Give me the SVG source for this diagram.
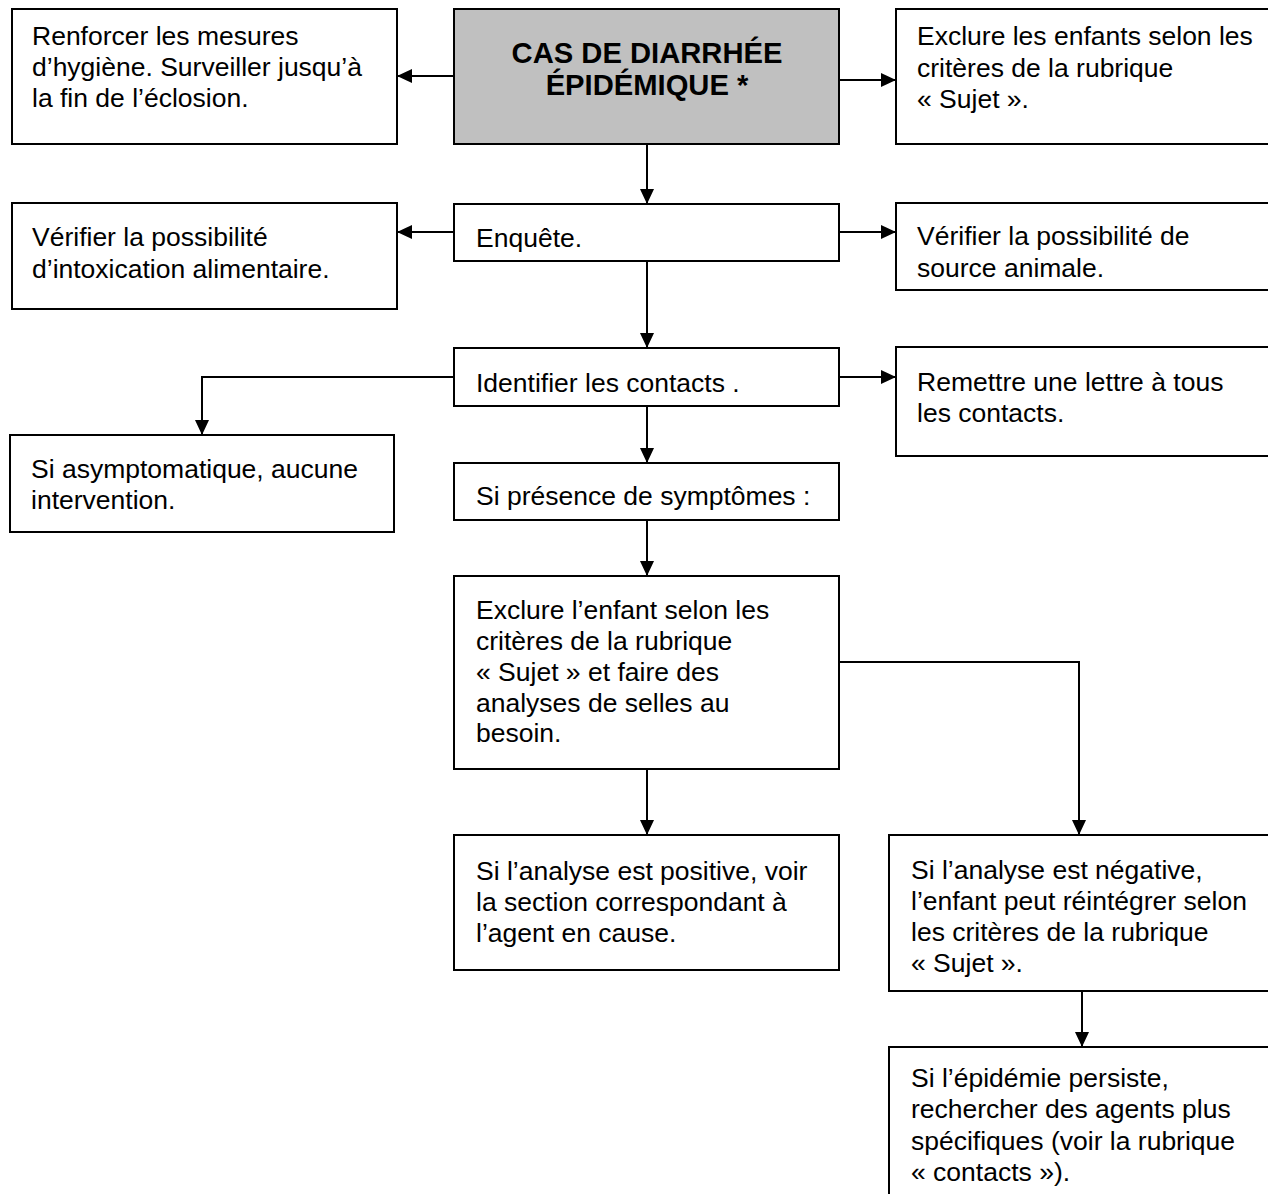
<svg xmlns="http://www.w3.org/2000/svg" width="1268" height="1194" viewBox="0 0 1268 1194">
  <defs>
    <marker id="ah" viewBox="0 0 15 14" refX="15" refY="7" markerWidth="15" markerHeight="14" markerUnits="userSpaceOnUse" orient="auto">
      <path d="M0,0 L15,7 L0,14 Z" fill="#000"/>
    </marker>
    <style>
      .box { fill: #ffffff; stroke: #000; stroke-width: 2; }
      .main { fill: #c0c0c0; stroke: #000; stroke-width: 2; }
      .t { font-family: "Liberation Sans", Arial, sans-serif; font-size: 26.5px; fill: #000; }
      .tb { font-family: "Liberation Sans", Arial, sans-serif; font-size: 29.2px; font-weight: bold; fill: #000; text-anchor: middle; }
      .c { fill: none; stroke: #000; stroke-width: 2; }
      .ca { fill: none; stroke: #000; stroke-width: 2; marker-end: url(#ah); }
    </style>
  </defs>
  <rect x="0" y="0" width="1268" height="1194" fill="#ffffff"/>

  <g id="connectors">
    <line class="ca" x1="454" y1="76" x2="397" y2="76"/>
    <line class="ca" x1="839" y1="80" x2="896" y2="80"/>
    <line class="ca" x1="647" y1="144" x2="647" y2="204"/>
    <line class="ca" x1="454" y1="232" x2="397" y2="232"/>
    <line class="ca" x1="839" y1="232" x2="896" y2="232"/>
    <line class="ca" x1="647" y1="261" x2="647" y2="348"/>
    <polyline class="ca" points="454,377 202,377 202,435"/>
    <line class="ca" x1="839" y1="377" x2="896" y2="377"/>
    <line class="ca" x1="647" y1="406" x2="647" y2="463"/>
    <line class="ca" x1="647" y1="520" x2="647" y2="576"/>
    <line class="ca" x1="647" y1="769" x2="647" y2="835"/>
    <polyline class="ca" points="839,662 1079,662 1079,835"/>
    <line class="ca" x1="1082" y1="991" x2="1082" y2="1047"/>
  </g>

  <g id="n-renforcer">
    <rect class="box" x="12" y="9" width="385" height="135"/>
    <text class="t" x="32" y="45">Renforcer les mesures</text>
    <text class="t" x="32" y="76">d’hygiène. Surveiller jusqu’à</text>
    <text class="t" x="32" y="107">la fin de l’éclosion.</text>
  </g>

  <g id="n-main">
    <rect class="main" x="454" y="9" width="385" height="135"/>
    <text class="tb" x="647" y="63">CAS DE DIARRHÉE</text>
    <text class="tb" x="647" y="95">ÉPIDÉMIQUE *</text>
  </g>

  <g id="n-exclure-enfants">
    <rect class="box" x="896" y="9" width="390" height="135"/>
    <text class="t" x="917" y="45">Exclure les enfants selon les</text>
    <text class="t" x="917" y="77">critères de la rubrique</text>
    <text class="t" x="917" y="108">« Sujet ».</text>
  </g>

  <g id="n-intox">
    <rect class="box" x="12" y="203" width="385" height="106"/>
    <text class="t" x="32" y="246">Vérifier la possibilité</text>
    <text class="t" x="32" y="278">d’intoxication alimentaire.</text>
  </g>

  <g id="n-enquete">
    <rect class="box" x="454" y="204" width="385" height="57"/>
    <text class="t" x="476" y="247">Enquête.</text>
  </g>

  <g id="n-animale">
    <rect class="box" x="896" y="203" width="390" height="87"/>
    <text class="t" x="917" y="245">Vérifier la possibilité de</text>
    <text class="t" x="917" y="277">source animale.</text>
  </g>

  <g id="n-identifier">
    <rect class="box" x="454" y="348" width="385" height="58"/>
    <text class="t" x="476" y="392">Identifier les contacts .</text>
  </g>

  <g id="n-lettre">
    <rect class="box" x="896" y="347" width="390" height="109"/>
    <text class="t" x="917" y="391">Remettre une lettre à tous</text>
    <text class="t" x="917" y="422">les contacts.</text>
  </g>

  <g id="n-asym">
    <rect class="box" x="10" y="435" width="384" height="97"/>
    <text class="t" x="31" y="478">Si asymptomatique, aucune</text>
    <text class="t" x="31" y="509">intervention.</text>
  </g>

  <g id="n-symptomes">
    <rect class="box" x="454" y="463" width="385" height="57"/>
    <text class="t" x="476" y="505">Si présence de symptômes :</text>
  </g>

  <g id="n-exclure-enfant">
    <rect class="box" x="454" y="576" width="385" height="193"/>
    <text class="t" x="476" y="619">Exclure l’enfant selon les</text>
    <text class="t" x="476" y="650">critères de la rubrique</text>
    <text class="t" x="476" y="681">« Sujet » et faire des</text>
    <text class="t" x="476" y="712">analyses de selles au</text>
    <text class="t" x="476" y="742">besoin.</text>
  </g>

  <g id="n-positive">
    <rect class="box" x="454" y="835" width="385" height="135"/>
    <text class="t" x="476" y="880">Si l’analyse est positive, voir</text>
    <text class="t" x="476" y="911">la section correspondant à</text>
    <text class="t" x="476" y="942">l’agent en cause.</text>
  </g>

  <g id="n-negative">
    <rect class="box" x="889" y="835" width="397" height="156"/>
    <text class="t" x="911" y="879">Si l’analyse est négative,</text>
    <text class="t" x="911" y="910">l’enfant peut réintégrer selon</text>
    <text class="t" x="911" y="941">les critères de la rubrique</text>
    <text class="t" x="911" y="972">« Sujet ».</text>
  </g>

  <g id="n-persiste">
    <rect class="box" x="889" y="1047" width="397" height="170"/>
    <text class="t" x="911" y="1087">Si l’épidémie persiste,</text>
    <text class="t" x="911" y="1118">rechercher des agents plus</text>
    <text class="t" x="911" y="1150">spécifiques (voir la rubrique</text>
    <text class="t" x="911" y="1181">« contacts »).</text>
  </g>
</svg>
